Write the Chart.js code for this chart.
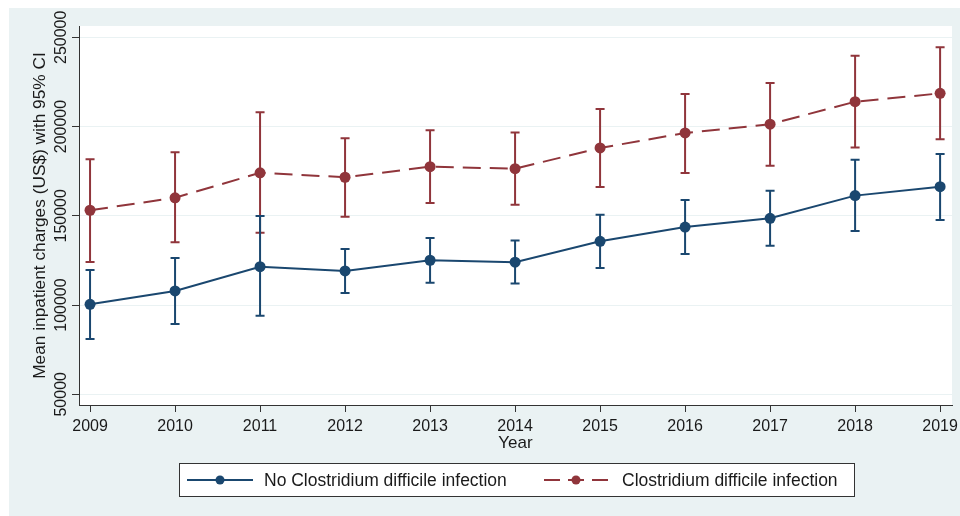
<!DOCTYPE html>
<html><head><meta charset="utf-8">
<script src="https://cdn.jsdelivr.net/npm/chart.js@4.4.1/dist/chart.umd.min.js"></script>
<style>html,body{margin:0;padding:0;background:#fff}#wrap{width:960px;height:516px;position:relative}canvas{display:block}</style>
</head><body><div id="wrap"><canvas id="c" width="960" height="516"></canvas></div>
<script>
const years = [2009, 2010, 2011, 2012, 2013, 2014, 2015, 2016, 2017, 2018, 2019];
const noCdiMean  = [100400, 107900, 121500, 119100, 125100, 124000, 135700, 143700, 148600, 161300, 166300];
const noCdiLower = [81000, 89400, 94000, 106800, 112500, 112000, 120800, 128600, 133200, 141500, 147600];
const noCdiUpper = [119600, 126400, 149900, 131400, 137600, 136100, 150600, 158900, 164100, 181400, 184600];
const cdiMean  = [153100, 160100, 174100, 171600, 177500, 176400, 188000, 196400, 201300, 213900, 218600];
const cdiLower = [124100, 135200, 140500, 149500, 157200, 156200, 166100, 174000, 178100, 188200, 192900];
const cdiUpper = [181700, 185600, 208000, 193400, 197900, 196600, 209800, 218200, 224400, 239700, 244400];
const yTicks = [50000, 100000, 150000, 200000, 250000];
const seriesLabels = ['No Clostridium difficile infection', 'Clostridium difficile infection'];
const yTitle = 'Mean inpatient charges (US$) with 95% CI';
const xTitle = 'Year';

const BLUE = '#1a476f', RED = '#90353b', BG = '#eaf2f3', AX = '#333333';
const FONT = "'Liberation Sans', Arial, sans-serif";

const toPts = arr => years.map((y, i) => ({x: y, y: arr[i]}));

const errorBars = [
  {lower: cdiLower, upper: cdiUpper, color: RED},
  {lower: noCdiLower, upper: noCdiUpper, color: BLUE}
];

const decor = {
  id: 'decor',
  beforeDraw(chart) {
    const ctx = chart.ctx, a = chart.chartArea;
    ctx.save();
    ctx.fillStyle = '#ffffff';
    ctx.fillRect(0, 0, chart.width, chart.height);
    ctx.fillStyle = BG;
    ctx.fillRect(9, 8, chart.width - 9, chart.height - 8);
    ctx.fillStyle = '#ffffff';
    ctx.fillRect(a.left, a.top, a.right - a.left, a.bottom - a.top);
    ctx.restore();
  },
  beforeDatasetsDraw(chart) {
    const ctx = chart.ctx, xs = chart.scales.x, ys = chart.scales.y;
    ctx.save();
    errorBars.forEach(eb => {
      ctx.strokeStyle = eb.color;
      ctx.lineWidth = 2;
      years.forEach((yr, i) => {
        const px = xs.getPixelForValue(yr);
        const pl = ys.getPixelForValue(eb.lower[i]);
        const pu = ys.getPixelForValue(eb.upper[i]);
        ctx.beginPath();
        ctx.moveTo(px, pl); ctx.lineTo(px, pu);
        ctx.moveTo(px - 4.5, pl); ctx.lineTo(px + 4.5, pl);
        ctx.moveTo(px - 4.5, pu); ctx.lineTo(px + 4.5, pu);
        ctx.stroke();
      });
    });
    ctx.restore();
  },
  afterDraw(chart) {
    const ctx = chart.ctx, ys = chart.scales.y;
    ctx.save();
    // y tick labels, rotated
    ctx.fillStyle = '#1a1a1a';
    ctx.font = '16px ' + FONT;
    ctx.textAlign = 'center';
    ctx.textBaseline = 'middle';
    yTicks.forEach(v => {
      const py = ys.getPixelForValue(v);
      ctx.save();
      ctx.translate(62, py);
      ctx.rotate(-Math.PI / 2);
      ctx.fillText(String(v), 0, 0);
      ctx.restore();
    });
    // legend
    const lx = 179.5, ly = 463.5, lw = 675, lh = 33, cy = 480;
    ctx.fillStyle = '#ffffff';
    ctx.fillRect(lx, ly, lw, lh);
    ctx.strokeStyle = AX;
    ctx.lineWidth = 1;
    ctx.strokeRect(lx, ly, lw, lh);
    // blue item
    ctx.strokeStyle = BLUE; ctx.lineWidth = 2;
    ctx.beginPath(); ctx.moveTo(187, cy); ctx.lineTo(253, cy); ctx.stroke();
    ctx.fillStyle = BLUE;
    ctx.beginPath(); ctx.arc(220, cy, 4.5, 0, Math.PI * 2); ctx.fill();
    // red item
    ctx.strokeStyle = RED; ctx.lineWidth = 2;
    ctx.setLineDash([16, 8]);
    ctx.beginPath(); ctx.moveTo(544, cy); ctx.lineTo(612, cy); ctx.stroke();
    ctx.setLineDash([]);
    ctx.fillStyle = RED;
    ctx.beginPath(); ctx.arc(576, cy, 4.5, 0, Math.PI * 2); ctx.fill();
    ctx.fillStyle = '#1a1a1a';
    ctx.font = '17.5px ' + FONT;
    ctx.textAlign = 'left';
    ctx.fillText(seriesLabels[0], 264, cy + 1);
    ctx.fillText(seriesLabels[1], 622, cy + 1);
    ctx.restore();
  }
};

new Chart(document.getElementById('c'), {
  type: 'line',
  data: {
    datasets: [
      {
        label: seriesLabels[1], data: toPts(cdiMean),
        borderColor: RED, backgroundColor: RED, borderWidth: 2, borderDash: [18, 9],
        pointRadius: 5.5, pointBorderWidth: 0, pointBackgroundColor: RED, tension: 0
      },
      {
        label: seriesLabels[0], data: toPts(noCdiMean),
        borderColor: BLUE, backgroundColor: BLUE, borderWidth: 2,
        pointRadius: 5.5, pointBorderWidth: 0, pointBackgroundColor: BLUE, tension: 0
      }
    ]
  },
  options: {
    responsive: false, animation: false, devicePixelRatio: 1,
    layout: {padding: {left: 0, top: 26, right: 8, bottom: 61}},
    plugins: {legend: {display: false}, tooltip: {enabled: false}},
    scales: {
      x: {
        type: 'linear', min: 2008.87, max: 2019.14,
        afterBuildTicks: s => { s.ticks = years.map(v => ({value: v})); },
        afterFit: s => { s.height = 50; s.paddingLeft = 0; s.paddingRight = 0; },
        grid: {drawOnChartArea: false, drawTicks: true, tickLength: 7, tickColor: AX},
        border: {display: true, color: AX, width: 1},
        ticks: {color: '#1a1a1a', font: {family: FONT, size: 16}, padding: 5, maxRotation: 0, autoSkip: false, callback: v => String(v)},
        title: {display: true, text: xTitle, color: '#1a1a1a', font: {family: FONT, size: 17}, padding: {top: 0, bottom: 1}}
      },
      y: {
        type: 'linear', min: 44000, max: 256330,
        afterBuildTicks: s => { s.ticks = yTicks.map(v => ({value: v})); },
        afterFit: s => { s.width = 79; s.paddingTop = 0; s.paddingBottom = 0; },
        grid: {color: BG, lineWidth: 1, drawTicks: true, tickLength: 7, tickColor: AX},
        border: {display: true, color: AX, width: 1},
        ticks: {display: false},
        title: {display: true, text: yTitle, color: '#1a1a1a', font: {family: FONT, size: 17.3}, padding: {top: 29.5, bottom: 0}}
      }
    }
  },
  plugins: [decor]
});
</script>
</body></html>
